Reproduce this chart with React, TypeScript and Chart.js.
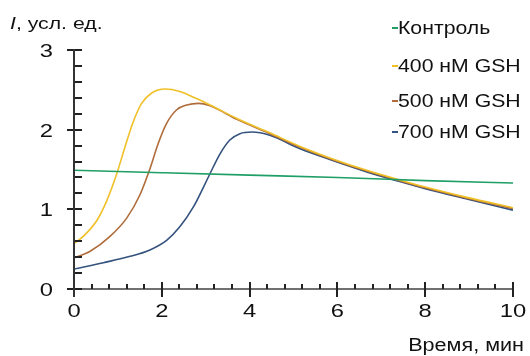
import React, { useEffect, useRef } from "react";
import { Chart, registerables } from "chart.js";

Chart.register(...registerables);

// ---- Data ----
const seriesLabels = ["Контроль", "400 нМ GSH", "500 нМ GSH", "700 нМ GSH"];

const controlTime = [0, 2, 4, 6, 8, 10];
const controlValues = [1.49, 1.46, 1.43, 1.4, 1.36, 1.33];

const gsh400Time = [0, 0.21, 0.52, 0.74, 0.97, 1.16, 1.35, 1.54, 1.77, 2.07, 2.41, 2.79, 3.1, 3.71, 4.46, 5.15, 5.91, 6.67, 7.35, 8.0, 8.95, 10];
const gsh400Values = [0.57, 0.66, 0.86, 1.1, 1.44, 1.78, 2.1, 2.33, 2.46, 2.51, 2.48, 2.39, 2.31, 2.14, 1.96, 1.79, 1.63, 1.49, 1.38, 1.28, 1.15, 1.02];

const gsh500Time = [0, 0.36, 0.82, 1.2, 1.5, 1.73, 1.92, 2.11, 2.34, 2.57, 2.83, 3.1, 3.71, 4.46, 5.15, 5.91, 6.67, 7.35, 8.0, 8.95, 10];
const gsh500Values = [0.39, 0.47, 0.66, 0.89, 1.18, 1.51, 1.83, 2.08, 2.25, 2.31, 2.33, 2.3, 2.13, 1.95, 1.78, 1.62, 1.48, 1.37, 1.27, 1.14, 1.01];

const gsh700Time = [0, 0.67, 1.28, 1.73, 2.11, 2.41, 2.72, 2.95, 3.1, 3.33, 3.55, 3.78, 4.05, 4.46, 5.15, 5.91, 6.67, 7.35, 8.0, 8.95, 10];
const gsh700Values = [0.25, 0.33, 0.41, 0.49, 0.61, 0.78, 1.03, 1.28, 1.45, 1.7, 1.87, 1.95, 1.97, 1.93, 1.76, 1.61, 1.47, 1.36, 1.26, 1.13, 0.99];

const xTickValues = [0, 2, 4, 6, 8, 10];
const xTickLabels = ["0", "2", "4", "6", "8", "10"];
const yTickValues = [0, 1, 2, 3];
const yTickLabels = ["0", "1", "2", "3"];
const xAxisTitle = "Время, мин";
const yAxisTitleItalic = "I";
const yAxisTitleRest = ", усл. ед.";

// ---- Styles ----
const seriesColors = ["#1f9e66", "#f0c028", "#b06c3a", "#34527e"];
const FONT = "'Liberation Sans', Arial, sans-serif";

function stretchText(
  ctx: CanvasRenderingContext2D,
  text: string,
  x: number,
  y: number,
  font: string,
  align: "left" | "center" | "right",
  sx: number,
  color = "#111"
): number {
  ctx.save();
  ctx.font = font;
  const w = ctx.measureText(text).width * sx;
  let left = x;
  if (align === "center") left = x - w / 2;
  else if (align === "right") left = x - w;
  ctx.translate(left, y);
  ctx.scale(sx, 1);
  ctx.textAlign = "left";
  ctx.textBaseline = "alphabetic";
  ctx.fillStyle = color;
  ctx.fillText(text, 0, 0);
  ctx.restore();
  return w;
}

export default function App() {
  const ref = useRef<HTMLCanvasElement>(null);

  useEffect(() => {
    if (!ref.current) return;
    const toPts = (xs: number[], ys: number[]) => xs.map((x, i) => ({ x, y: ys[i] }));

    const axesPlugin = {
      id: "customAxes",
      afterDraw(chart: any) {
        const ctx: CanvasRenderingContext2D = chart.ctx;
        const xs = chart.scales.x;
        const ys = chart.scales.y;
        const x0 = Math.round(xs.getPixelForValue(0));
        const y0 = Math.round(ys.getPixelForValue(0));
        const yTop = Math.round(ys.getPixelForValue(3));
        const xEnd = Math.round(xs.getPixelForValue(10));
        ctx.save();
        // x axis (with short overhang left of the y axis)
        ctx.fillStyle = "#707070";
        ctx.fillRect(x0 - 7, y0 - 1, xEnd - x0 + 8, 2);
        // y ticks (minor every 0.2)
        ctx.fillStyle = "#222222";
        for (let i = 0; i <= 15; i++) {
          const py = Math.round(ys.getPixelForValue(i / 5));
          const xa = i % 5 === 0 ? x0 - 7 : x0;
          ctx.fillRect(xa, py - 1, x0 + 8 - xa, 2);
        }
        // x ticks (minor every 0.4)
        for (let i = 0; i <= 25; i++) {
          const px = Math.round(xs.getPixelForValue((i * 2) / 5));
          if (i % 5 === 0) ctx.fillRect(px - 1, y0 - 7, 2, 15);
          else ctx.fillRect(px - 1, y0 - 5, 2, 5);
        }
        // y axis
        ctx.fillStyle = "#333333";
        ctx.fillRect(x0 - 1, yTop - 1, 2, y0 + 9 - yTop);
        ctx.restore();

        // tick labels
        const tickFont = `19px ${FONT}`;
        xTickValues.forEach((v, i) => {
          stretchText(ctx, xTickLabels[i], xs.getPixelForValue(v), 317, tickFont, "center", 1.25);
        });
        yTickValues.forEach((v, i) => {
          stretchText(ctx, yTickLabels[i], 53, ys.getPixelForValue(v) + 7, tickFont, "right", 1.25);
        });

        // axis titles
        stretchText(ctx, xAxisTitle, 524, 351, `18px ${FONT}`, "right", 1.2);
        const wI = stretchText(ctx, yAxisTitleItalic, 10, 29, `italic 17px ${FONT}`, "left", 1.25);
        stretchText(ctx, yAxisTitleRest, 10 + wI, 29, `17px ${FONT}`, "left", 1.25);

        // legend
        const baselines = [33.5, 72, 106.5, 138];
        chart.data.datasets.forEach((ds: any, i: number) => {
          const b = baselines[i];
          ctx.save();
          ctx.fillStyle = ds.borderColor;
          ctx.fillRect(392, Math.round(b - 7), 6, 2);
          ctx.restore();
          stretchText(ctx, ds.label, 398, b, `18px ${FONT}`, "left", 1.18);
        });
      },
    };

    const chart = new Chart(ref.current, {
      type: "line",
      data: {
        datasets: [
          { label: seriesLabels[0], data: toPts(controlTime, controlValues), borderColor: seriesColors[0], backgroundColor: seriesColors[0] },
          { label: seriesLabels[1], data: toPts(gsh400Time, gsh400Values), borderColor: seriesColors[1], backgroundColor: seriesColors[1] },
          { label: seriesLabels[2], data: toPts(gsh500Time, gsh500Values), borderColor: seriesColors[2], backgroundColor: seriesColors[2] },
          { label: seriesLabels[3], data: toPts(gsh700Time, gsh700Values), borderColor: seriesColors[3], backgroundColor: seriesColors[3] },
        ],
      },
      options: {
        animation: false,
        responsive: false,
        maintainAspectRatio: false,
        layout: { padding: { left: 0, right: 17, top: 50, bottom: 0 } },
        plugins: { legend: { display: false }, tooltip: { enabled: false }, title: { display: false } },
        elements: {
          point: { radius: 0 },
          line: { borderWidth: 1.6, cubicInterpolationMode: "monotone", fill: false },
        },
        scales: {
          x: {
            type: "linear",
            min: 0,
            max: 10,
            grid: { display: false },
            border: { display: true, color: "#707070", width: 2 },
            ticks: { display: false },
            afterFit: (s: any) => {
              s.height = 67;
            },
          },
          y: {
            type: "linear",
            min: 0,
            max: 3,
            grid: { display: false },
            border: { display: true, color: "#333333", width: 2 },
            ticks: { display: false },
            afterFit: (s: any) => {
              s.width = 74;
            },
          },
        },
      } as any,
      plugins: [axesPlugin],
    });
    return () => chart.destroy();
  }, []);

  return (
    <div style={{ position: "fixed", left: 0, top: 0, width: 530, height: 356, background: "#fff" }}>
      <canvas ref={ref} width={530} height={356} style={{ width: 530, height: 356, display: "block" }} />
    </div>
  );
}
